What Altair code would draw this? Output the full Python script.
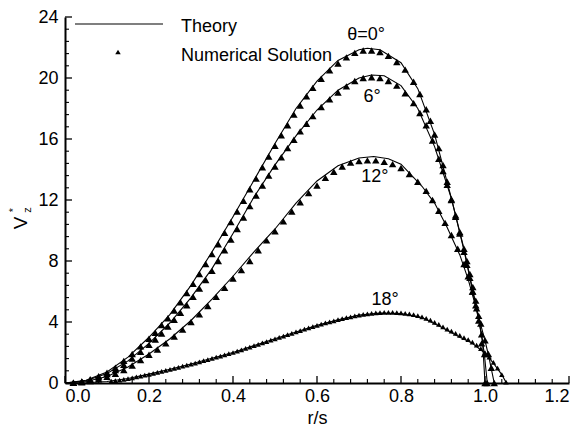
import altair as alt
import pandas as pd

FONT = "Liberation Sans"

# ---------------- Theory curves (r/s, Vz*) ----------------
th0_r = [0, 0.05, 0.10, 0.15, 0.20, 0.25, 0.30, 0.35, 0.40, 0.45, 0.50, 0.55, 0.60, 0.65, 0.70, 0.72, 0.75, 0.80, 0.84, 0.88, 0.92, 0.95, 0.97, 0.985, 0.994, 1.0]
th0_v = [0, 0.18, 0.72, 1.7, 3.0, 4.5, 6.4, 8.6, 10.9, 13.3, 15.7, 18.0, 19.8, 21.15, 21.85, 21.95, 21.85, 21.0, 19.3, 16.3, 12.1, 8.7, 6.1, 4.1, 2.8, 0]

th6_r = [0, 0.05, 0.10, 0.15, 0.20, 0.25, 0.30, 0.35, 0.40, 0.45, 0.50, 0.55, 0.60, 0.65, 0.70, 0.73, 0.76, 0.80, 0.84, 0.88, 0.92, 0.95, 0.97, 0.985, 0.998, 1.0055]
th6_v = [0, 0.15, 0.62, 1.45, 2.6, 3.95, 5.6, 7.5, 9.8, 12.2, 14.3, 16.2, 17.9, 19.2, 20.0, 20.2, 20.15, 19.5, 18.0, 15.5, 12.1, 8.8, 6.2, 4.3, 2.0, 0]

th12_r = [0, 0.05, 0.10, 0.15, 0.20, 0.25, 0.30, 0.35, 0.40, 0.45, 0.50, 0.55, 0.60, 0.65, 0.70, 0.735, 0.77, 0.80, 0.85, 0.88, 0.91, 0.94, 0.96, 0.98, 1.0, 1.01, 1.022]
th12_v = [0, 0.1, 0.42, 1.05, 1.9, 2.9, 4.1, 5.5, 7.0, 8.6, 10.1, 11.8, 13.25, 14.25, 14.75, 14.85, 14.7, 14.35, 12.9, 11.8, 10.2, 8.4, 6.8, 4.8, 2.8, 1.6, 0]

th18_r = [0, 0.05, 0.10, 0.15, 0.20, 0.25, 0.30, 0.35, 0.40, 0.45, 0.50, 0.55, 0.60, 0.65, 0.70, 0.75, 0.80, 0.85, 0.90, 0.94, 0.97, 1.00, 1.02, 1.04, 1.051]
th18_v = [0, 0.02, 0.1, 0.3, 0.58, 0.9, 1.25, 1.62, 2.0, 2.45, 2.9, 3.35, 3.78, 4.15, 4.45, 4.58, 4.55, 4.3, 3.6, 3.0, 2.6, 1.95, 1.3, 0.55, 0]

# ---------------- Numerical solution (triangles) ----------------
nu0_r = [0.02, 0.04, 0.06, 0.08, 0.10, 0.12, 0.14, 0.16, 0.18, 0.20, 0.215, 0.23, 0.245, 0.26, 0.275, 0.29, 0.305, 0.32, 0.335, 0.35,
         0.365, 0.38, 0.395, 0.41, 0.425, 0.44, 0.455, 0.47, 0.485, 0.50, 0.515, 0.53, 0.545, 0.56, 0.575, 0.59, 0.61, 0.63, 0.65, 0.67,
         0.69, 0.71, 0.73, 0.75, 0.77, 0.79, 0.81, 0.83, 0.845, 0.86, 0.87, 0.88, 0.89, 0.90, 0.91, 0.92, 0.93, 0.94, 0.95, 0.957,
         0.964, 0.971, 0.978, 0.985, 0.992, 1.0]
nu0_v = [0.02, 0.1, 0.25, 0.45, 0.68, 1.0, 1.45, 1.9, 2.4, 2.9, 3.3, 3.8, 4.25, 4.75, 5.3, 5.9, 6.5, 7.15, 7.8, 8.45,
         9.1, 9.85, 10.55, 11.25, 11.95, 12.7, 13.4, 14.15, 14.85, 15.55, 16.25, 16.9, 17.6, 18.2, 18.8, 19.35, 19.95, 20.5, 20.95, 21.35,
         21.65, 21.8, 21.8, 21.7, 21.45, 21.05, 20.55, 19.75, 18.95, 17.95, 17.2, 16.3, 15.4, 14.3, 13.2, 12.0, 10.9, 9.8, 8.6, 7.75,
         6.9, 6.0, 5.1, 4.1, 2.6, 0.0]

nu6_r = [0.02, 0.04, 0.06, 0.08, 0.10, 0.12, 0.14, 0.16, 0.18, 0.20, 0.215, 0.23, 0.245, 0.26, 0.275, 0.29, 0.305, 0.32, 0.335, 0.35,
         0.365, 0.38, 0.395, 0.41, 0.425, 0.44, 0.455, 0.47, 0.485, 0.50, 0.515, 0.53, 0.545, 0.56, 0.575, 0.59, 0.61, 0.63, 0.65, 0.67,
         0.69, 0.71, 0.73, 0.75, 0.77, 0.79, 0.81, 0.83, 0.845, 0.86, 0.875, 0.89, 0.90, 0.91, 0.92, 0.93, 0.94, 0.95, 0.957, 0.964,
         0.971, 0.978, 0.985, 0.992, 0.999, 1.005]
nu6_v = [0.02, 0.08, 0.2, 0.38, 0.58, 0.85, 1.2, 1.6, 2.05, 2.5, 2.85, 3.25, 3.7, 4.15, 4.6, 5.1, 5.65, 6.2, 6.75, 7.35,
         8.0, 8.7, 9.4, 10.1, 10.85, 11.6, 12.3, 12.95, 13.6, 14.2, 14.8, 15.4, 15.95, 16.5, 17.0, 17.5, 18.1, 18.6, 19.05, 19.45,
         19.8, 20.0, 20.05, 20.0, 19.8, 19.5, 19.0, 18.35, 17.7, 16.9, 15.9, 14.7, 13.9, 13.0, 12.05, 11.0, 9.9, 8.8, 8.0, 7.15,
         6.3, 5.4, 4.4, 3.2, 1.9, 0.0]

nu12_r = [0.02, 0.04, 0.06, 0.08, 0.10, 0.12, 0.14, 0.16, 0.18, 0.20, 0.22, 0.24, 0.26, 0.28, 0.30, 0.32, 0.34, 0.36, 0.38, 0.40,
          0.42, 0.44, 0.46, 0.48, 0.50, 0.52, 0.54, 0.56, 0.58, 0.60, 0.62, 0.64, 0.66, 0.68, 0.70, 0.72, 0.74, 0.76, 0.78, 0.80,
          0.82, 0.84, 0.86, 0.875, 0.89, 0.905, 0.92, 0.935, 0.95, 0.96, 0.97, 0.98, 0.99, 1.0, 1.008, 1.015, 1.022]
nu12_v = [0.01, 0.05, 0.13, 0.25, 0.4, 0.6, 0.85, 1.15, 1.5, 1.85, 2.2, 2.6, 3.05, 3.5, 4.0, 4.5, 5.05, 5.65, 6.25, 6.85,
          7.4, 8.0, 8.7, 9.35, 9.95, 10.6, 11.25, 11.85, 12.45, 12.95, 13.45, 13.85, 14.2, 14.45, 14.55, 14.6, 14.6, 14.5, 14.35, 14.1,
          13.7, 13.2, 12.6, 12.0, 11.3, 10.5, 9.7, 8.8, 7.8, 7.0, 6.0, 4.9, 3.9, 2.8, 1.9, 1.0, 0.0]

nu18_r = [0.11, 0.12, 0.13, 0.14, 0.15, 0.16, 0.17, 0.18, 0.19, 0.20,
          0.21, 0.22, 0.23, 0.24, 0.25, 0.26, 0.27, 0.28, 0.29, 0.30,
          0.31, 0.32, 0.33, 0.34, 0.35, 0.36, 0.37, 0.38, 0.39, 0.40,
          0.41, 0.42, 0.43, 0.44, 0.45, 0.46, 0.47, 0.48, 0.49, 0.50,
          0.51, 0.52, 0.53, 0.54, 0.55, 0.56, 0.57, 0.58, 0.59, 0.60,
          0.61, 0.62, 0.63, 0.64, 0.65, 0.66, 0.67, 0.68, 0.69, 0.70,
          0.71, 0.72, 0.73, 0.74, 0.75, 0.76, 0.77, 0.78, 0.79, 0.80,
          0.81, 0.82, 0.83, 0.84, 0.85, 0.86, 0.87, 0.88, 0.89, 0.90,
          0.91, 0.92, 0.93, 0.94, 0.95, 0.96, 0.97, 0.98, 0.99, 1.00,
          1.01, 1.02, 1.03, 1.04, 1.05]
nu18_v = [0.12, 0.15, 0.19, 0.24, 0.29, 0.34, 0.4, 0.45, 0.51, 0.57,
          0.63, 0.69, 0.76, 0.82, 0.89, 0.96, 1.03, 1.1, 1.17, 1.24,
          1.31, 1.39, 1.46, 1.54, 1.61, 1.69, 1.76, 1.84, 1.92, 2.0,
          2.09, 2.18, 2.27, 2.36, 2.45, 2.54, 2.63, 2.72, 2.81, 2.9,
          2.99, 3.08, 3.17, 3.26, 3.35, 3.44, 3.53, 3.61, 3.7, 3.78,
          3.86, 3.94, 4.01, 4.08, 4.15, 4.22, 4.28, 4.34, 4.4, 4.45,
          4.5, 4.54, 4.57, 4.6, 4.62, 4.63, 4.63, 4.63, 4.62, 4.6,
          4.57, 4.53, 4.48, 4.42, 4.34, 4.24, 4.12, 3.98, 3.84, 3.68,
          3.54, 3.4, 3.26, 3.12, 2.98, 2.84, 2.68, 2.48, 2.25, 2.0,
          1.7, 1.35, 0.98, 0.55, 0.05]

# ---------------- Curve labels ----------------
lab_text = ["θ=0°", "6°", "12°", "18°"]
lab_r = [0.717, 0.731, 0.738, 0.762]
lab_v = [22.85, 18.75, 13.5, 5.45]

# ---------------- Axis ticks ----------------
x_major = [0.0, 0.2, 0.4, 0.6, 0.8, 1.0, 1.2]
x_minor = [0.04, 0.08, 0.12, 0.16, 0.24, 0.28, 0.32, 0.36, 0.44, 0.48, 0.52, 0.56,
           0.64, 0.68, 0.72, 0.76, 0.84, 0.88, 0.92, 0.96, 1.04, 1.08, 1.12, 1.16]
y_major = [0, 4, 8, 12, 16, 20, 24]
y_minor = [0.8, 1.6, 2.4, 3.2, 4.8, 5.6, 6.4, 7.2, 8.8, 9.6, 10.4, 11.2,
           12.8, 13.6, 14.4, 15.2, 16.8, 17.6, 18.4, 19.2, 20.8, 21.6, 22.4, 23.2]

legend_labels = ["Theory", "Numerical Solution"]


def frame(name, rs, vs):
    return pd.DataFrame({"r": rs, "v": vs, "s": name})


theory = pd.concat([frame("0", th0_r, th0_v), frame("6", th6_r, th6_v),
                    frame("12", th12_r, th12_v), frame("18", th18_r, th18_v)])
numer = pd.concat([frame("0", nu0_r, nu0_v), frame("6", nu6_r, nu6_v),
                   frame("12", nu12_r, nu12_v)])
numer18 = frame("18", nu18_r, nu18_v)
labels = pd.DataFrame({"r": lab_r, "v": lab_v, "t": lab_text})

W, H = 504, 366
xs = alt.Scale(domain=[0, 1.2], nice=False, zero=False)
ys = alt.Scale(domain=[0, 24], nice=False, zero=False)

X = alt.X("r:Q", scale=xs, title="r/s",
          axis=alt.Axis(values=x_major, format=".1f", ticks=False, grid=False,
                        labelFont=FONT, labelFontSize=18, labelColor="black", labelPadding=4,
                        domainColor="black", domainWidth=2,
                        titleFont=FONT, titleFontSize=18, titleFontWeight="normal",
                        titleColor="black", titlePadding=4))
Y = alt.Y("v:Q", scale=ys, title=None,
          axis=alt.Axis(values=y_major, format="d", ticks=False, grid=False,
                        labelFont=FONT, labelFontSize=18, labelColor="black", labelPadding=7,
                        domainColor="black", domainWidth=2))

lines = alt.Chart(theory).mark_line(color="black", strokeWidth=1.1, clip=True).encode(
    x=X, y=Y, detail="s:N")

pts = alt.Chart(numer).mark_point(shape="triangle-up", filled=True, color="black",
                                  size=55, opacity=1).encode(x=X, y=Y)
pts18 = alt.Chart(numer18).mark_point(shape="triangle-up", filled=True, color="black",
                                      size=30, opacity=1).encode(x=X, y=Y)

txt = alt.Chart(labels).mark_text(font=FONT, fontSize=18, color="black",
                                  align="center", baseline="middle").encode(x=X, y=Y, text="t:N")

# inward ticks
xmaj = alt.Chart(pd.DataFrame({"r": x_major})).mark_rule(color="black", strokeWidth=1.3).encode(
    x=X, y=alt.value(H), y2=alt.value(H - 7))
xmin = alt.Chart(pd.DataFrame({"r": x_minor})).mark_rule(color="black", strokeWidth=1.1).encode(
    x=X, y=alt.value(H), y2=alt.value(H - 4))
ymaj = alt.Chart(pd.DataFrame({"v": y_major})).mark_rule(color="black", strokeWidth=1.3).encode(
    y=Y, x=alt.value(0), x2=alt.value(7))
ymin = alt.Chart(pd.DataFrame({"v": y_minor})).mark_rule(color="black", strokeWidth=1.1).encode(
    y=Y, x=alt.value(0), x2=alt.value(4))

# legend
leg_df1 = pd.DataFrame({"label": [legend_labels[0]]})
leg_df2 = pd.DataFrame({"label": [legend_labels[1]]})
leg_line = alt.Chart(leg_df1).mark_rule(color="black", strokeWidth=1.1).encode(
    x=alt.value(10), x2=alt.value(98), y=alt.value(7))
leg_tri = alt.Chart(leg_df2).mark_point(shape="triangle-up", filled=True, color="black",
                                        size=30, opacity=1).encode(x=alt.value(53), y=alt.value(35))
leg_t1 = alt.Chart(leg_df1).mark_text(font=FONT, fontSize=18, color="black", align="left",
                                      baseline="middle").encode(x=alt.value(116), y=alt.value(10), text="label:N")
leg_t2 = alt.Chart(leg_df2).mark_text(font=FONT, fontSize=18, color="black", align="left",
                                      baseline="middle").encode(x=alt.value(116), y=alt.value(39), text="label:N")

# y-axis title V*z (rotated)
ytitle_df = pd.DataFrame({"a": ["V"], "b": ["*"], "c": ["z"]})
yt_v = alt.Chart(ytitle_df).mark_text(font=FONT, fontSize=19, color="black", angle=270,
                                      align="center", baseline="middle").encode(
    x=alt.value(-44), y=alt.value(206), text="a:N")
yt_s = alt.Chart(ytitle_df).mark_text(font=FONT, fontSize=11, color="black", angle=270,
                                      align="center", baseline="middle").encode(
    x=alt.value(-51), y=alt.value(193), text="b:N")
yt_z = alt.Chart(ytitle_df).mark_text(font=FONT, fontSize=11, color="black", angle=270,
                                      align="center", baseline="middle").encode(
    x=alt.value(-37), y=alt.value(193), text="c:N")

chart = alt.layer(
    lines, pts, pts18, txt, xmaj, xmin, ymaj, ymin,
    leg_line, leg_tri, leg_t1, leg_t2, yt_v, yt_s, yt_z
).properties(
    width=W, height=H,
    autosize=alt.AutoSizeParams(type="none"),
    padding={"left": 65, "top": 17, "right": 14, "bottom": 48},
    background="white",
).configure_view(stroke=None)

chart.save("out.html", embed_options={"renderer": "svg", "actions": False})
